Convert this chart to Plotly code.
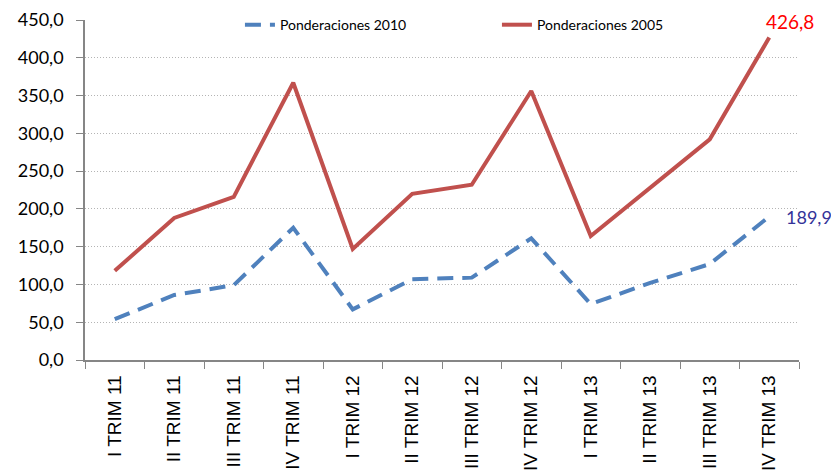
import plotly.graph_objects as go

trimestres = ["I TRIM 11", "II TRIM 11", "III TRIM 11", "IV TRIM 11",
              "I TRIM 12", "II TRIM 12", "III TRIM 12", "IV TRIM 12",
              "I TRIM 13", "II TRIM 13", "III TRIM 13", "IV TRIM 13"]
pond_2010 = [54.0, 86.0, 99.0, 175.0, 67.0, 107.0, 109.0, 161.0, 74.0, 102.0, 127.0, 189.9]
pond_2005 = [118.0, 188.0, 216.0, 367.0, 147.0, 220.0, 232.0, 356.0, 164.0, 228.0, 292.0, 426.8]

fig = go.Figure()
fig.add_trace(go.Scatter(x=trimestres, y=pond_2010, mode="lines", name="Ponderaciones 2010",
                         line=dict(color="#4F81BD", width=4, dash="16px,9px")))
fig.add_trace(go.Scatter(x=trimestres, y=pond_2005, mode="lines", name="Ponderaciones 2005",
                         line=dict(color="#C0504D", width=4)))

# etiquetas del ultimo valor
fig.add_annotation(x=trimestres[-1], y=pond_2005[-1], text="426,8", showarrow=False,
                   xshift=21, yshift=16, font=dict(family="Lato", size=19, color="#FF0000"))
fig.add_annotation(x=trimestres[-1], y=pond_2010[-1], text="189,9", showarrow=False,
                   xshift=40, yshift=0, font=dict(family="Lato", size=18, color="#333399"))

# la pagina tiene 8px de margen en el body: se compensa en los margenes
fig.update_layout(
    width=839, height=475,
    margin=dict(l=77, r=48, t=12, b=123, autoexpand=False),
    plot_bgcolor="white", paper_bgcolor="white",
    separators=",.",
    showlegend=True,
    legend=dict(orientation="h", x=0.217, y=0.985, xanchor="left", yanchor="middle",
                entrywidth=212, entrywidthmode="pixels",
                font=dict(family="Lato", size=14, color="black"),
                bgcolor="rgba(0,0,0,0)"),
    xaxis=dict(type="category", range=[-0.5, 11.5], showline=True, linecolor="#868686",
               linewidth=1.5, ticks="outside", tickson="boundaries", ticklen=7,
               tickcolor="#868686", tickangle=-90, showgrid=False, automargin=False,
               ticklabelstandoff=6, ticklabeloverflow="allow",
               tickfont=dict(family="Liberation Sans", size=19, color="black")),
    yaxis=dict(range=[0, 450], dtick=50, tickformat=".1f", showline=True,
               linecolor="#868686", linewidth=1.5, ticks="outside", ticklen=7,
               tickcolor="#868686", showgrid=True, gridcolor="#B4B4B4", griddash="1px,2px",
               gridwidth=1, zeroline=False, automargin=False, ticklabelstandoff=9,
               ticklabeloverflow="allow",
               tickfont=dict(family="Lato", size=18, color="black")),
)

fig.write_html("out.html")
